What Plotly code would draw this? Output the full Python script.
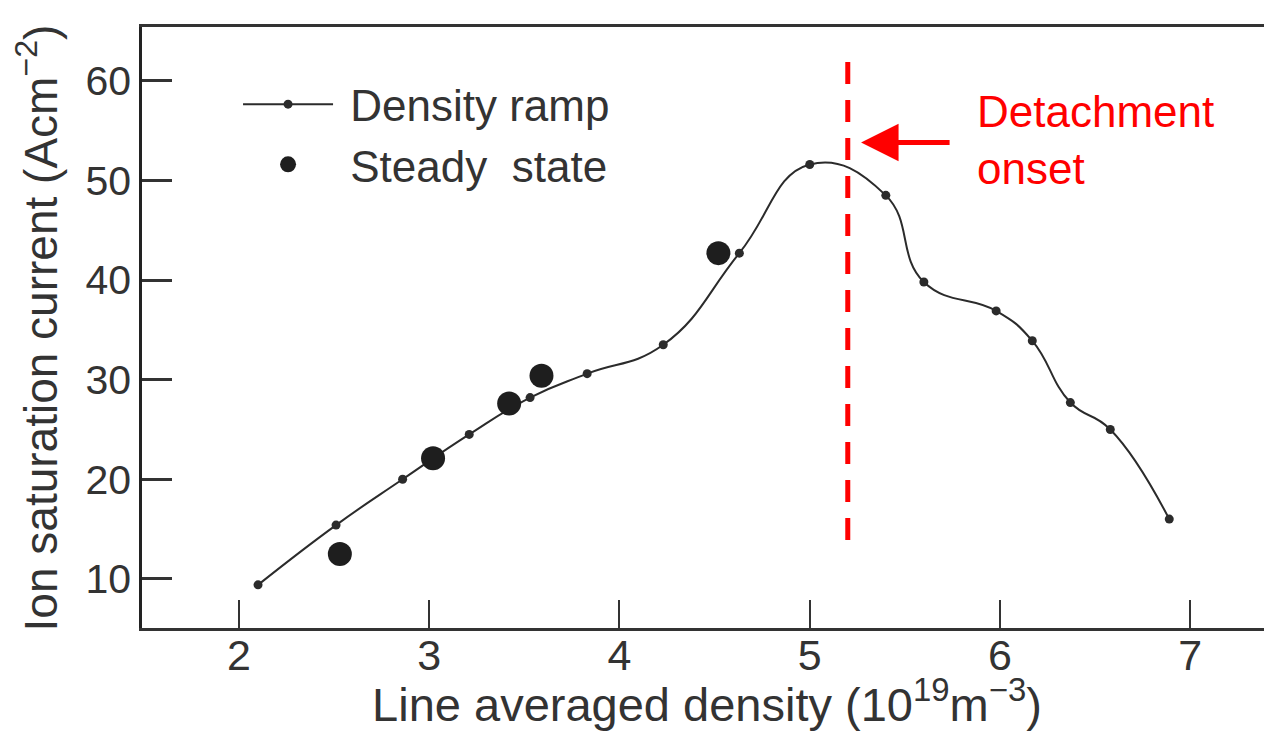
import plotly.graph_objects as go

# Density ramp (small dots, smooth line)
ramp_x = [2.10, 2.51, 2.86, 3.21, 3.53, 3.83, 4.23, 4.63, 5.00, 5.40, 5.60, 5.98, 6.17, 6.37, 6.58, 6.89]
ramp_y = [9.4, 15.4, 20.0, 24.5, 28.2, 30.6, 33.5, 42.7, 51.6, 48.5, 39.8, 36.9, 33.9, 27.7, 25.0, 16.0]

# Steady state (large dots)
steady_x = [2.53, 3.02, 3.42, 3.59, 4.52]
steady_y = [12.5, 22.1, 27.6, 30.4, 42.7]

# Detachment onset marker
onset_x = 5.20
onset_y_range = [13.9, 62.7]
arrow_tip = (5.27, 53.8)
label_pos = (5.87, 54.1)

x_ticks = [2, 3, 4, 5, 6, 7]
y_ticks = [10, 20, 30, 40, 50, 60]

INK = "#2b2b2b"
FONT = "Liberation Sans, Arial, Helvetica, sans-serif"
NB = "\u00a0"

fig = go.Figure()
fig.add_trace(go.Scatter(
    x=ramp_x, y=ramp_y, mode="lines+markers", name=NB + "Density ramp",
    line=dict(color=INK, width=2, shape="spline", smoothing=1.3),
    marker=dict(color=INK, size=9),
))
fig.add_trace(go.Scatter(
    x=steady_x, y=steady_y, mode="markers", name=NB + "Steady" + NB + " state",
    marker=dict(color="#1e1e1e", size=24),
))

fig.add_shape(type="line", x0=onset_x, x1=onset_x, y0=onset_y_range[0], y1=onset_y_range[1],
              xref="x", yref="y", line=dict(color="#ff0000", width=5, dash="22px,16px"))

fig.add_annotation(x=arrow_tip[0], y=arrow_tip[1], xref="x", yref="y", text="",
                   showarrow=True, ax=90, ay=0, arrowhead=2, arrowsize=1.5,
                   arrowwidth=5, arrowcolor="#ff0000", standoff=0)
fig.add_annotation(x=label_pos[0], y=label_pos[1], xref="x", yref="y",
                   text="Detachment<br>onset", showarrow=False, xanchor="left",
                   yanchor="middle", align="left",
                   font=dict(family=FONT, size=44, color="#ff0000"))

# y-axis title as a rotated annotation so it can sit fully in the left margin
fig.add_annotation(x=-0.093, y=0.50, xref="paper", yref="paper",
                   text="Ion saturation current (Acm<sup>\u22122</sup>)",
                   textangle=-90, showarrow=False, xanchor="center", yanchor="middle",
                   font=dict(family=FONT, size=46, color="#333333"))

# page body adds an 8px offset, so the figure is 8px smaller and margins shifted
fig.update_layout(
    width=1264, height=723,
    margin=dict(l=134, r=0, t=19, b=103),
    paper_bgcolor="white", plot_bgcolor="white",
    font=dict(family=FONT, color="#333333"),
    showlegend=True,
    legend=dict(x=0.085, y=0.93, xanchor="left", yanchor="top",
                bgcolor="rgba(0,0,0,0)", font=dict(size=44, color="#333333"),
                itemsizing="trace", itemwidth=90),
)
fig.update_xaxes(
    range=[1.49, 7.43], tickvals=x_ticks, ticktext=[str(v) for v in x_ticks],
    showgrid=False, zeroline=False, showline=True, linecolor="#333333", linewidth=2.5,
    mirror=True, ticks="inside", ticklen=28, tickwidth=2, tickcolor="#333333",
    tickfont=dict(size=43, color="#333333"), ticklabelstandoff=-12,
    title=dict(text="Line averaged density (10<sup>19</sup>m<sup>\u22123</sup>)",
               font=dict(size=47, color="#333333"), standoff=0),
)
fig.update_yaxes(
    range=[5.07, 65.4], tickvals=y_ticks, ticktext=[str(v) for v in y_ticks],
    showgrid=False, zeroline=False, showline=True, linecolor="#222222", linewidth=2.5,
    ticks="inside", ticklen=30, tickwidth=2.5, tickcolor="#333333",
    tickfont=dict(size=41, color="#333333"),
)

fig.write_html("out.html")
